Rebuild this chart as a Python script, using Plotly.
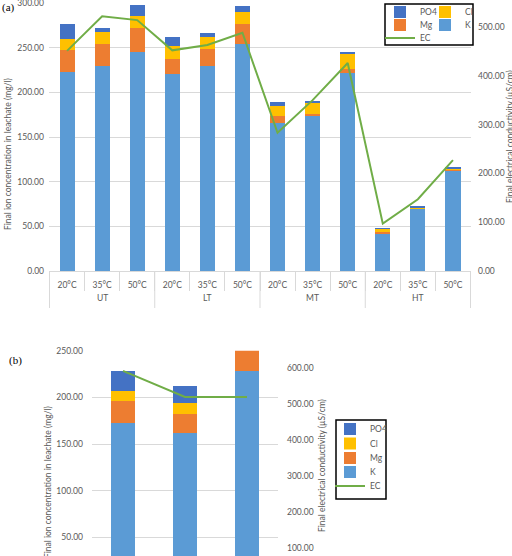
import plotly.graph_objects as go

W, H = 512, 556

# ---------------- data (a) ----------------
group_names = ["UT", "LT", "MT", "HT"]
groups_a = ["UT", "UT", "UT", "LT", "LT", "LT", "MT", "MT", "MT", "HT", "HT", "HT"]
temps_a = ["20°C", "35°C", "50°C"] * 4
K_a = [223, 229.5, 245.5, 221, 229, 254.5, 166, 173, 222, 42.5, 70, 113]
Mg_a = [24, 25, 27, 16.5, 19, 21.5, 7.5, 3, 4, 0.8, 0.5, 1]
Cl_a = [13, 13, 13.5, 14.5, 14, 13.5, 11, 13, 17, 4.5, 0.5, 1]
PO4_a = [16, 4.5, 11.5, 9.5, 4.5, 7.5, 4.5, 1.5, 2.5, 0.3, 0.7, 1]
EC_a = [451, 522, 514, 452, 463, 488, 283, 350, 426, 97, 147, 227]

# ---------------- data (b) ----------------
cats_b = ["1", "2", "3"]
K_b = [173, 162, 228]
Mg_b = [22.7, 20.7, 22.5]
Cl_b = [11.4, 11.1, 0]
PO4_b = [21.1, 18.5, 0]
EC_b = [593, 520, 520]

COL = {"K": "#5B9BD5", "Mg": "#ED7D31", "Cl": "#FFC000", "PO4": "#4472C4", "EC": "#70AD47"}
GRID = "#D9D9D9"
TXT = "#595959"
FONT = "Lato"

def px(x):
    return x / W

def py(y):
    return 1 - y / H

fig = go.Figure()
xa = [g + " " + t for g, t in zip(groups_a, temps_a)]

# top chart: each legend entry in its own small legend (2-column Excel layout)
legmap_a = {"PO4": "legend", "Cl": "legend2", "Mg": "legend3", "K": "legend4"}
for name, vals in [("K", K_a), ("Mg", Mg_a), ("Cl", Cl_a), ("PO4", PO4_a)]:
    fig.add_trace(go.Bar(x=xa, y=vals, name=name, marker_color=COL[name], marker_line_width=0,
                         width=0.43, xaxis="x", yaxis="y", legend=legmap_a[name], showlegend=True))
fig.add_trace(go.Scatter(x=xa, y=EC_a, name="EC", mode="lines", line=dict(color=COL["EC"], width=2),
                         xaxis="x", yaxis="y2", legend="legend5", showlegend=True))

# bottom chart
legmap_b = {"PO4": "legend6", "Cl": "legend7", "Mg": "legend8", "K": "legend9"}
for name, vals in [("K", K_b), ("Mg", Mg_b), ("Cl", Cl_b), ("PO4", PO4_b)]:
    fig.add_trace(go.Bar(x=cats_b, y=vals, name=name, marker_color=COL[name], marker_line_width=0,
                         width=0.4, xaxis="x2", yaxis="y3", legend=legmap_b[name], showlegend=True))
fig.add_trace(go.Scatter(x=cats_b, y=EC_b, name="EC", mode="lines", line=dict(color=COL["EC"], width=2),
                         xaxis="x2", yaxis="y4", legend="legend10", showlegend=True))

tickfont = dict(family=FONT, size=8.5, color=TXT)

layout = dict(
    width=W, height=H, margin=dict(l=0, r=0, t=0, b=0, autoexpand=False),
    paper_bgcolor="white", plot_bgcolor="white", showlegend=True,
    barmode="stack", font=dict(family=FONT, color=TXT, size=8.5),
    xaxis=dict(domain=[px(49), px(471)], anchor="y", type="category", automargin=False,
               tickvals=xa, ticktext=temps_a, tickson="boundaries",
               showline=True, linecolor=GRID, ticks="outside", ticklen=19, tickcolor=GRID,
               tickfont=tickfont, showgrid=False, ticklabelstandoff=6),
    yaxis=dict(domain=[py(271), py(3)], anchor="x", range=[0, 300], dtick=50, tickformat=".2f",
               automargin=False, ticklabeloverflow="allow",
               gridcolor=GRID, zeroline=False, tickfont=tickfont, ticklabelstandoff=4),
    yaxis2=dict(overlaying="y", side="right", anchor="x", range=[0, 549], dtick=100, tickformat=".2f",
                automargin=False, ticklabeloverflow="allow",
                showgrid=False, zeroline=False, tickfont=tickfont, ticklabelstandoff=6),
    xaxis2=dict(domain=[px(92), px(278)], anchor="y3", showticklabels=False, showline=False,
                showgrid=False, automargin=False),
    yaxis3=dict(domain=[0, py(350.7)], anchor="x2", range=[30.2, 250], dtick=50, tick0=0, tickformat=".2f",
                automargin=False, ticklabeloverflow="allow",
                gridcolor=GRID, zeroline=False, tickfont=tickfont, ticklabelstandoff=8),
    yaxis4=dict(overlaying="y3", side="right", anchor="x2", range=[77, 649], dtick=100, tick0=0,
                automargin=False, ticklabeloverflow="allow", tickformat=".2f", showgrid=False,
                zeroline=False, tickfont=tickfont, ticklabelstandoff=8),
)

legfont = dict(family=FONT, size=8.5, color=TXT)
def leg(x, y):
    return dict(x=px(x), y=py(y), xanchor="left", yanchor="middle", bgcolor="rgba(0,0,0,0)",
                borderwidth=0, font=legfont, itemwidth=30, tracegroupgap=0, orientation="v",
                visible=True)

# top legend grid
layout["legend"] = leg(380, 12)
layout["legend2"] = leg(425, 12)
layout["legend3"] = leg(380, 25)
layout["legend4"] = leg(425, 25)
layout["legend5"] = leg(380, 38)
# bottom legend column
for i, yy in zip(range(6, 11), [429, 443.5, 458, 472, 486]):
    layout[f"legend{i}"] = leg(330, yy)

shapes = [
    dict(type="rect", xref="paper", yref="paper", x0=px(385), x1=px(473), y0=py(45), y1=py(4),
         line=dict(color="black", width=1.5), fillcolor="white", layer="above"),
    dict(type="rect", xref="paper", yref="paper", x0=px(336), x1=px(386), y0=py(499), y1=py(420),
         line=dict(color="black", width=1.5), fillcolor="white", layer="above"),
]
# group dividers on the category axis (boundaries between groups)
n_per = len(temps_a) // len(group_names)
for k in range(len(group_names) + 1):
    shapes.append(dict(type="line", xref="x", yref="paper", x0=k * n_per - 0.5, x1=k * n_per - 0.5,
                       y0=py(271), y1=py(308), line=dict(color=GRID, width=1), layer="below"))
layout["shapes"] = shapes

title_font = dict(family=FONT, size=8.5, color=TXT)
annotations = [
    dict(text="(a)", x=px(0), y=py(7), xref="paper", yref="paper", xanchor="left", yanchor="middle",
         showarrow=False, font=dict(family="Liberation Serif", size=11, color="black")),
    dict(text="(b)", x=px(7), y=py(360), xref="paper", yref="paper", xanchor="left", yanchor="middle",
         showarrow=False, font=dict(family="Liberation Serif", size=11, color="black")),
    dict(text="Final ion concentration in leachate (mg/l)", x=px(8), y=py(154), xref="paper", yref="paper",
         textangle=-90, showarrow=False, font=title_font, xanchor="center", yanchor="middle"),
    dict(text="Final electrical conductivity (µS/cm)", x=px(510), y=py(137), xref="paper", yref="paper",
         textangle=-90, showarrow=False, font=title_font, xanchor="center", yanchor="middle"),
    dict(text="Final ion concentration in leachate (mg/l)", x=px(48), y=py(482), xref="paper", yref="paper",
         textangle=-90, showarrow=False, font=title_font, xanchor="center", yanchor="middle"),
    dict(text="Final electrical conductivity (µS/cm)", x=px(322), y=py(466), xref="paper", yref="paper",
         textangle=-90, showarrow=False, font=title_font, xanchor="center", yanchor="middle"),
]
for k, g in enumerate(group_names):
    annotations.append(dict(text=g, x=k * n_per + (n_per - 1) / 2, y=py(298), xref="x", yref="paper",
                            xanchor="center", yanchor="middle", showarrow=False, font=tickfont))
layout["annotations"] = annotations

fig.update_layout(**layout)
fig.write_html("out.html")
